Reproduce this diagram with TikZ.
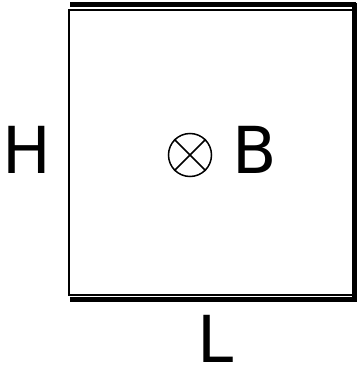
\documentclass[tikz,border=0pt]{standalone}
\usepackage{fontspec}
\setmainfont{DejaVu Sans}
\tikzset{plate/.style={line width=5bp}, lab/.style={font=\fontsize{65}{78}\selectfont, inner sep=0pt}}
\begin{document}
\begin{tikzpicture}[x=1bp,y=1bp]
\useasboundingbox (0,0) rectangle (360,369);
\draw[line width=1.5bp] (69,359) rectangle (353,74);
\draw[plate] (70,364.5) -- (356,364.5);%top plate
\draw[plate] (70,69.5) -- (356,69.5);%bottom plate
\draw[plate] (354.5,366) -- (354.5,67);
\node[lab, anchor=base] (h) at (27,196) {H};
% field into the page
\node[circle, draw, line width=1.5bp, minimum size=43bp, inner sep=0pt] (dot) at (190,214) {};
\draw[line width=1.5bp] (dot.45) -- (dot.225) (dot.135) -- (dot.315);
\node[lab, anchor=base] (b) at (254.5,196) {B};
\node[lab, anchor=base] (l) at (216,6.5) {L};
\end{tikzpicture}
\end{document}
